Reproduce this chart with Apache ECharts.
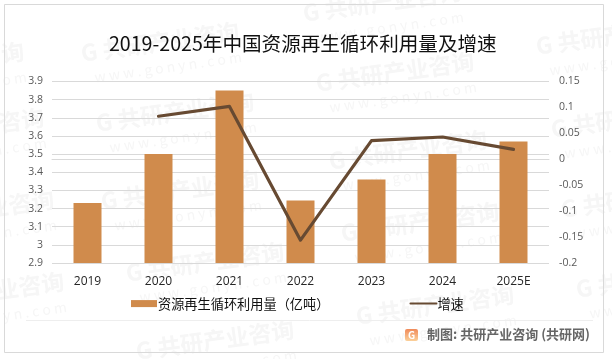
<!DOCTYPE html>
<html><head><meta charset="utf-8">
<style>html,body{margin:0;padding:0;background:#fff}#c{width:612px;height:359px}</style>
<script src="https://cdn.jsdelivr.net/npm/echarts@6/dist/echarts.min.js"></script>
</head><body><div id="c"></div>
<script>
const titleText = '2019-2025年中国资源再生循环利用量及增速';
const categories = ['2019','2020','2021','2022','2023','2024','2025E'];
const volume = [3.23,3.5,3.85,3.245,3.36,3.5,3.57];
const growth = [null,0.083,0.102,-0.156,0.036,0.043,0.019];
const barName = '资源再生循环利用量（亿吨）';
const lineName = '增速';
const sourceText = '制图: 共研产业咨询 (共研网)';
const wmCentres = [[160,42],[175,112],[382,2],[395,72],[408,150],[180,190],[205,262],[420,222],[435,305],[215,340],[-55,62],[-35,128],[-25,210],[-15,292],[615,35],[630,118],[640,198],[655,278]];
const font = '"Noto Sans CJK SC","Noto Sans",sans-serif';
const wm = [];
wmCentres.forEach(([x,y])=>{
  wm.push({type:'text',x,y,rotation:0.14,silent:true,z:0,style:{text:'G 共研产业咨询',fill:'#f6f6f6',font:'bold 23px '+font,align:'center',verticalAlign:'middle'}});
  wm.push({type:'text',x:x+8,y:y+25,rotation:0.14,silent:true,z:0,style:{text:'w w w . g o n y n . c o m',fill:'#f6f6f6',font:'14px '+font,align:'center',verticalAlign:'middle'}});
});
const chart = echarts.init(document.getElementById('c'),null,{renderer:'canvas'});
chart.setOption({
  animation:false,
  backgroundColor:'#fff',
  title:{text:titleText,left:104,top:29,itemGap:0,textStyle:{fontFamily:font,fontSize:19.6,fontWeight:'normal',color:'#111'}},
  grid:{left:52,top:81.5,width:497,height:181.5,containLabel:false},
  legend:{left:126,top:292,itemGap:80,itemWidth:26,itemHeight:7,textStyle:{fontFamily:font,fontSize:13.2,color:'#111',padding:[0,0,0,-4]},
    data:[{name:barName,icon:'rect'},{name:lineName,itemStyle:{opacity:0}}]},
  xAxis:{type:'category',data:categories,axisTick:{show:false},axisLine:{lineStyle:{color:'#d9d9d9',width:1}},
    axisLabel:{margin:13,fontFamily:'"Open Sans",sans-serif',fontSize:12,color:'#262626'}},
  yAxis:[
    {type:'value',min:2.9,max:3.9,interval:0.1,axisLine:{show:false},axisTick:{show:false},
      splitLine:{lineStyle:{color:'#d9d9d9',width:1}},axisLabel:{margin:9,fontFamily:'"Open Sans",sans-serif',fontSize:10.5,color:'#595959'}},
    {type:'value',min:-0.2,max:0.15,interval:0.05,axisLine:{show:false},axisTick:{show:false},splitLine:{show:false},
      axisLabel:{margin:10,align:'left',fontFamily:'"Open Sans",sans-serif',fontSize:10.5,color:'#595959'}}
  ],
  series:[
    {name:barName,type:'bar',data:volume,barWidth:28,itemStyle:{color:'#d08b4c'},z:2},
    {name:lineName,type:'line',yAxisIndex:1,data:growth,symbol:'none',connectNulls:false,lineStyle:{color:'#674a32',width:3.2,cap:'round',join:'round'},itemStyle:{color:'#674a32'},z:3}
  ],
  graphic:{elements:[
    ...wm,
    {type:'rect',silent:true,z:1,shape:{x:4.5,y:4.5,width:599,height:348},style:{fill:'none',stroke:'#d9d9d9',lineWidth:1}},
    {type:'line',silent:true,z:1,shape:{x1:26,y1:320.5,x2:593,y2:320.5},style:{stroke:'#eeeeee',lineWidth:1}},
    {type:'rect',silent:true,z:5,shape:{x:405,y:329,width:13,height:12,r:2},style:{fill:new echarts.graphic.LinearGradient(0,0,0,1,[{offset:0,color:'#f08a5a'},{offset:1,color:'#fbd09a'}])}},
    {type:'text',silent:true,z:6,x:411.5,y:335,style:{text:'G',fill:'#fff',font:'bold 10px '+font,align:'center',verticalAlign:'middle'}},
    {type:'text',silent:true,z:5,x:427,y:334,style:{text:sourceText,fill:'#666666',font:'bold 13px '+font,verticalAlign:'middle'}}
  ]}
});
</script></body></html>
